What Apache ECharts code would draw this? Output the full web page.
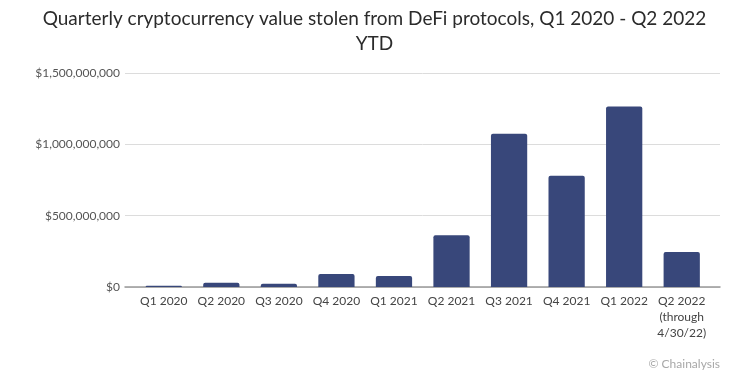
<!DOCTYPE html>
<html>
<head>
<meta charset="utf-8">
<script src="https://cdn.jsdelivr.net/npm/echarts@6/dist/echarts.min.js"></script>
<style>
html,body{margin:0;padding:0;background:#fff;}
#chart{width:749px;height:389px;}
</style>
</head>
<body>
<div id="chart"></div>
<script>
const titleLines = ["Quarterly cryptocurrency value stolen from DeFi protocols, Q1 2020 - Q2 2022", "YTD"];
const categories = ["Q1 2020","Q2 2020","Q3 2020","Q4 2020","Q1 2021","Q2 2021","Q3 2021","Q4 2021","Q1 2022","Q2 2022\n(through\n4/30/22)"];
const valuesStolen = [8000000, 30000000, 22000000, 91000000, 77000000, 362000000, 1075000000, 780000000, 1266000000, 246000000];
const yMin = 0, yMax = 1500000000, yStep = 500000000;
const sourceNote = "© Chainalysis";

const chart = echarts.init(document.getElementById('chart'));
const fmt = v => '$' + Math.round(v).toString().replace(/\B(?=(\d{3})+(?!\d))/g, ',');
const titleStyle = {fontFamily: 'Lato', fontSize: 19, fontWeight: 'normal', color: '#2b2b2b'};
chart.setOption({
  animation: false,
  backgroundColor: '#fff',
  title: titleLines.map((t, i) => ({text: t, left: 'center', top: 9 + i * 25, padding: 0, textStyle: titleStyle})),
  graphic: [{
    type: 'text', right: 29, top: 358,
    style: {text: sourceNote, fontFamily: 'Lato', fontSize: 12, fill: '#a8a8a8'}
  }],
  grid: [
    {left: 125, right: 29, top: 73, bottom: 102, containLabel: false},
    {left: 135, right: 38.5, top: 73, bottom: 102, containLabel: false}
  ],
  xAxis: [
    {gridIndex: 0, type: 'category', data: categories, axisLabel: {show: false}, axisTick: {show: false},
     axisLine: {show: true, lineStyle: {color: '#999', width: 1.5}}},
    {gridIndex: 1, type: 'category', data: categories, axisTick: {show: false}, axisLine: {show: false},
     axisLabel: {margin: 6, fontFamily: 'Lato', fontSize: 12, color: '#444', lineHeight: 16, interval: 0}}
  ],
  yAxis: [
    {gridIndex: 0, type: 'value', min: yMin, max: yMax, interval: yStep,
     axisLine: {show: false}, axisTick: {show: false},
     splitLine: {lineStyle: {color: '#dcdcdc', width: 1}},
     axisLabel: {formatter: fmt, margin: 5, fontFamily: 'Lato', fontSize: 12, color: '#555'}},
    {gridIndex: 1, type: 'value', min: yMin, max: yMax, interval: yStep, show: false}
  ],
  series: [{
    type: 'bar', xAxisIndex: 1, yAxisIndex: 1, data: valuesStolen, barWidth: '63%',
    itemStyle: {color: '#38477a', borderRadius: [2, 2, 0, 0]}
  }]
});
</script>
</body>
</html>
